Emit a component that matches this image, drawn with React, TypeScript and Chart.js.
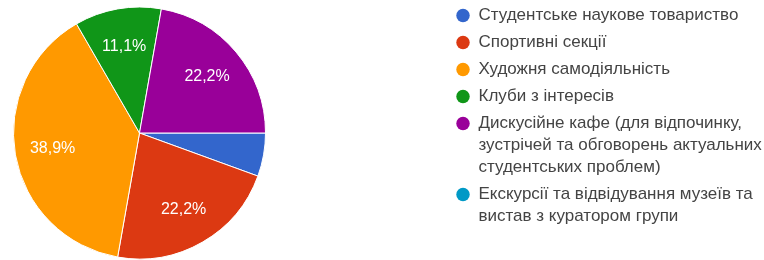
import React, { useEffect, useRef } from 'react';
import { Chart, registerables } from 'chart.js';

Chart.register(...registerables);

// ---- data ----
const categories: string[][] = [
  ['Студентське наукове товариство'],
  ['Спортивні секції'],
  ['Художня самодіяльність'],
  ['Клуби з інтересів'],
  ['Дискусійне кафе (для відпочинку,', 'зустрічей та обговорень актуальних', 'студентських проблем)'],
  ['Екскурсії та відвідування музеїв та', 'вистав з куратором групи'],
];
const responses: number[] = [1, 4, 7, 2, 4, 0];
const sliceColors: string[] = ['#3366cc', '#dc3912', '#ff9900', '#109618', '#990099', '#0099c6'];

// ---- layout constants ----
const FONT = '"Liberation Sans", Arial, sans-serif';
const LEGEND_BOX_W = 485; // reserves the right part of the canvas for the legend
const LEGEND_X = 451;
const LEGEND_Y = 2;
const LEGEND_TEXT = '#444444';
const MIN_LABEL_SHARE = 0.08; // slices smaller than this get no label

const formatPct = (v: number, total: number) =>
  ((v / total) * 100).toFixed(1).replace('.', ',') + '%';

const legendPlacement = {
  id: 'legendPlacement',
  afterInit(chart: any) {
    const lg = chart.legend;
    if (!lg) return;
    const orig = lg.fit.bind(lg);
    lg.fit = function () {
      orig();
      lg.width = LEGEND_BOX_W;
    };
  },
  afterLayout(chart: any) {
    const lg = chart.legend;
    if (!lg) return;
    lg.left = LEGEND_X;
    lg.right = chart.width;
    lg.top = LEGEND_Y;
    lg.bottom = chart.height;
    lg.width = lg.right - lg.left;
    lg.height = lg.bottom - lg.top;
  },
};

const sliceLabels = {
  id: 'sliceLabels',
  afterDatasetsDraw(chart: any) {
    const ctx = chart.ctx;
    const meta = chart.getDatasetMeta(0);
    const data = chart.data.datasets[0].data as number[];
    const total = data.reduce((a, b) => a + b, 0);
    ctx.save();
    ctx.font = `16px ${FONT}`;
    ctx.fillStyle = '#ffffff';
    ctx.textAlign = 'center';
    ctx.textBaseline = 'middle';
    meta.data.forEach((arc: any, i: number) => {
      const v = data[i];
      if (!v || v / total < MIN_LABEL_SHARE) return;
      const { x, y, startAngle, endAngle, outerRadius } = arc.getProps(
        ['x', 'y', 'startAngle', 'endAngle', 'outerRadius'],
        true
      );
      const mid = (startAngle + endAngle) / 2;
      const d = outerRadius * 0.7;
      ctx.fillText(formatPct(v, total), x + Math.cos(mid) * d, y + Math.sin(mid) * d);
    });
    ctx.restore();
  },
};

export default function App() {
  const canvasRef = useRef<HTMLCanvasElement | null>(null);

  useEffect(() => {
    if (!canvasRef.current) return;
    const chart = new Chart(canvasRef.current, {
      type: 'pie',
      data: {
        labels: categories.map((c) => c.join(' ')),
        datasets: [
          {
            data: responses,
            backgroundColor: sliceColors,
            borderColor: '#ffffff',
            borderWidth: 1,
            radius: 126,
          } as any,
        ],
      },
      options: {
        animation: false,
        responsive: true,
        maintainAspectRatio: false,
        rotation: 90,
        layout: { padding: { top: 7, bottom: 1, left: 0, right: 0 } },
        plugins: {
          tooltip: { enabled: false },
          legend: {
            position: 'right',
            align: 'start',
            labels: {
              usePointStyle: true,
              pointStyle: 'circle',
              boxWidth: 14,
              boxHeight: 9.5,
              padding: 5,
              color: LEGEND_TEXT,
              font: { family: FONT, size: 17, lineHeight: 22 / 17 },
              generateLabels: () =>
                categories.map((c, i) => ({
                  text: c as any,
                  fillStyle: sliceColors[i],
                  strokeStyle: sliceColors[i],
                  lineWidth: 0,
                  pointStyle: 'circle',
                  hidden: false,
                  index: i,
                  fontColor: LEGEND_TEXT,
                })),
            },
          },
        },
      },
      plugins: [legendPlacement, sliceLabels],
    });
    return () => chart.destroy();
  }, []);

  return (
    <div style={{ position: 'absolute', left: 0, top: 0, width: 764, height: 260, background: '#fff' }}>
      <canvas ref={canvasRef} />
    </div>
  );
}
